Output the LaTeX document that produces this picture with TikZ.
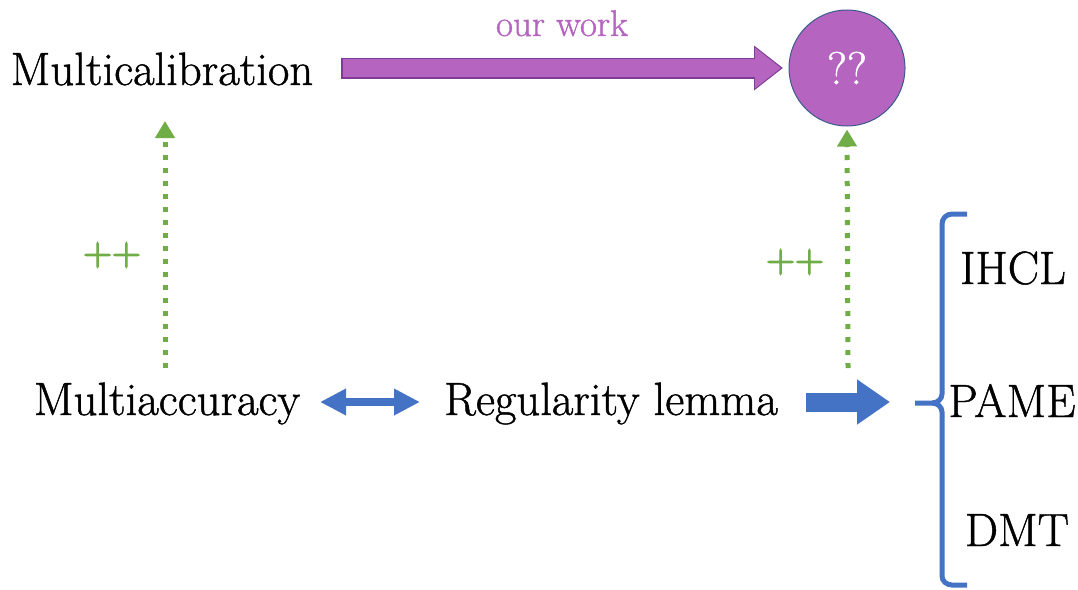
\documentclass[tikz,border=0pt]{standalone}
\usepackage{fontspec}
\newfontfamily\txtfont{Latin Modern Roman}[FakeBold=1]
\newfontfamily\plusfont{Latin Modern Roman}[FakeBold=3]
\usetikzlibrary{arrows.meta}
\definecolor{mpurple}{HTML}{B565C0}
\definecolor{mpurpleedge}{HTML}{7E3C97}
\definecolor{mblue}{HTML}{4472C4}
\definecolor{medge}{HTML}{3B5A8C}
\definecolor{mgreen}{HTML}{70AD47}
\tikzset{
  big/.style={font=\txtfont\fontsize{46.7}{52}\selectfont, inner sep=0pt},
  lbl/.style={font=\txtfont\fontsize{37}{42}\selectfont, inner sep=0pt},
  plus/.style={font=\plusfont\fontsize{40}{46}\selectfont, inner sep=0pt, text=mgreen},
  dotarrow/.style={mgreen, line width=5pt, dash pattern=on 5pt off 8pt,
    -{Triangle[length=17pt, width=19pt, sep=3pt]}},
}
\begin{document}
\begin{tikzpicture}[x=1pt,y=-1pt]
\useasboundingbox (0,0) rectangle (1078,589);

% texts
\node[big, anchor=base] (mcal) at (162,85) {Multicalibration};
\node[big, anchor=base] (macc) at (167,415) {Multiaccuracy};
\node[big, anchor=base] (reg)  at (611,415) {Regularity lemma};
\node[big, anchor=base] (ihcl) at (1013,284) {IHCL};
\node[big, anchor=base] (pame) at (1012,417) {PAME};
\node[big, anchor=base] (dmt)  at (1017,546) {DMT};
\node[lbl, text=mpurple, anchor=base] (ourwork) at (562,36) {our work};

% open question
\node[circle, fill=mpurple, draw=medge, line width=1pt, minimum size=116pt,
  inner sep=0pt, text=white, font=\txtfont\fontsize{46}{50}\selectfont] (q) at (847,68) {??};

% purple block arrow
\coordinate (pa) at (341,68);
\coordinate (pb) at (783,68);
\draw[mpurpleedge, line width=21pt, -{Triangle[length=29pt, width=43pt]}] (pa) -- (pb);
\draw[mpurple, line width=18pt, -{Triangle[length=26pt, width=39pt]}] ([xshift=1.5pt]pa) -- ([xshift=-2pt]pb);

% green dotted arrows
\coordinate (ga) at (165,368);
\coordinate (gb) at (165,118);
\draw[dotarrow] (ga) -- (gb);
\node[plus] (pl) at (112,255) {++};
\coordinate (gc) at (848,368);
\draw[dotarrow] (gc) -- (q.south);
\node[plus] (pr) at (795,262) {++};

% blue double arrow
\coordinate (da) at (320,402);
\coordinate (db) at (420,402);
\draw[mblue, line width=8pt, {Triangle[length=26pt, width=25pt]}-{Triangle[length=26pt, width=25pt]}] (da) -- (db);

% blue block arrow
\coordinate (ba) at (806,402);
\coordinate (bb) at (890,402);
\draw[mblue, line width=19pt, -{Triangle[length=33pt, width=43pt]}] (ba) -- (bb);

% brace
\coordinate (brace) at (915,403);
\draw[mblue, line width=5pt]
  (967,214) -- (952,214) to[out=180,in=90] (942,224) -- (942,394)
  to[out=-90,in=0] (932,403) -- (brace);
\draw[mblue, line width=5pt]
  (932,403) to[out=0,in=90] (942,412) -- (942,576)
  to[out=-90,in=180] (952,585) -- (967,585);
\end{tikzpicture}
\end{document}
